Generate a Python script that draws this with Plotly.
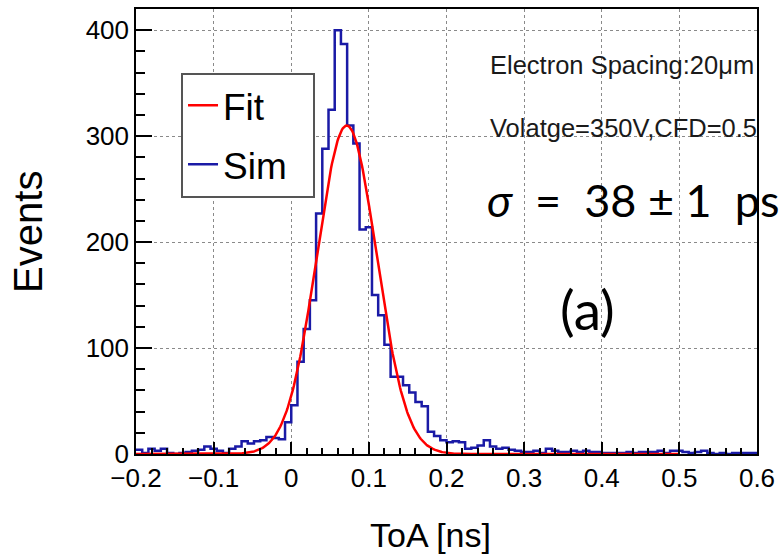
import numpy as np
import plotly.graph_objects as go

# ---- data ----
bin_lo, bin_hi, n_bins = -0.2, 0.6, 100
sim_counts = [
    4, 1, 5, 3, 5, 1, 0, 1, 2, 3,
    4, 7, 5, 3, 1, 5, 7, 12, 10, 12,
    13, 16, 15, 14, 30, 46, 87, 118, 145, 227,
    288, 325, 400, 387, 310, 293, 212, 214, 150, 131,
    103, 73, 73, 65, 58, 49, 45, 21, 17, 13,
    11, 12, 11, 5, 6, 8, 13, 7, 5, 6,
    4, 3, 2, 2, 3, 1, 5, 3, 2, 2,
    3, 2, 3, 2, 2, 1, 1, 1, 1, 2,
    1, 2, 2, 2, 3, 1, 3, 3, 2, 1,
    2, 3, 1, 0, 1, 0, 1, 1, 1, 1,
]
# Gaussian fit parameters
fit_amp, fit_mean, fit_sigma = 310.0, 0.0715, 0.0384
fit_lo, fit_hi = -0.2, 0.5

x_ticks = [-0.2, -0.1, 0, 0.1, 0.2, 0.3, 0.4, 0.5, 0.6]
y_ticks = [0, 100, 200, 300, 400]

edges = np.linspace(bin_lo, bin_hi, n_bins + 1)
step_y = list(sim_counts) + [sim_counts[-1]]
fx = np.linspace(fit_lo, fit_hi, 600)
fy = fit_amp * np.exp(-0.5 * ((fx - fit_mean) / fit_sigma) ** 2)

NB = "\u00a0"
fig = go.Figure()
fig.add_trace(go.Scatter(x=edges, y=step_y, mode="lines", line_shape="hv",
                         line=dict(color="#1a1aa6", width=2.5), name="Sim" + NB * 2,
                         legendrank=2, legendgroup="b"))
fig.add_trace(go.Scatter(x=fx, y=fy, mode="lines",
                         line=dict(color="#ff0000", width=2.5), name="Fit",
                         legendrank=1, legendgroup="a"))

axis_common = dict(showline=True, linecolor="black", linewidth=1.5, mirror=True,
                   ticks="inside", tickcolor="black", zeroline=False,
                   showgrid=True, gridcolor="#8a8a8a", griddash="dot", gridwidth=1,
                   tickfont=dict(family="Liberation Sans", size=26, color="black"))

fig.update_xaxes(range=[bin_lo, bin_hi], tickvals=x_ticks, ticklen=12, tickwidth=1.5,
                 minor=dict(ticks="inside", dtick=0.02, ticklen=6, tickcolor="black", showgrid=False),
                 **axis_common)
fig.update_yaxes(range=[0, 420], tickvals=y_ticks, ticklen=16, tickwidth=1.5,
                 minor=dict(ticks="inside", dtick=20, ticklen=9, tickcolor="black", showgrid=False),
                 **axis_common)

sigma_text = ("<i>σ</i>" + NB * 2 + "=" + NB * 2 + "38" + NB + "±" + NB + "1"
              + NB * 2 + "ps")

fig.update_layout(
    width=782, height=559,
    margin=dict(l=136, r=25, t=7, b=105),
    paper_bgcolor="white", plot_bgcolor="white",
    showlegend=True,
    legend=dict(x=0.0725, y=0.857, xanchor="left", yanchor="top",
                bgcolor="white", bordercolor="#555555", borderwidth=2,
                font=dict(family="Liberation Sans", size=37, color="black"),
                tracegroupgap=8),
    annotations=[
        dict(text="ToA [ns]", xref="paper", yref="paper", x=0.474, y=-0.183,
             xanchor="center", yanchor="middle", showarrow=False,
             font=dict(family="Liberation Sans", size=34, color="black")),
        dict(text="Events", xref="paper", yref="paper", x=-0.174, y=0.499,
             xanchor="center", yanchor="middle", showarrow=False, textangle=-90,
             font=dict(family="Liberation Sans", size=40, color="black")),
        dict(text="Electron Spacing:20μm", xref="paper", yref="paper", x=0.567, y=0.874,
             xanchor="left", yanchor="middle", showarrow=False,
             font=dict(family="Liberation Sans", size=25.5, color="#1a1a1a")),
        dict(text="Volatge=350V,CFD=0.5", xref="paper", yref="paper", x=0.567, y=0.732,
             xanchor="left", yanchor="middle", showarrow=False,
             font=dict(family="Liberation Sans", size=25.5, color="#1a1a1a")),
        dict(text=sigma_text, xref="paper", yref="paper", x=0.562, y=0.571,
             xanchor="left", yanchor="middle", showarrow=False,
             font=dict(family="Lato", size=45, color="black")),
        dict(text="(a)", xref="paper", yref="paper", x=0.7266, y=0.326,
             xanchor="center", yanchor="middle", showarrow=False,
             font=dict(family="Lato", size=55, color="black")),
    ],
)

fig.write_html("out.html")
